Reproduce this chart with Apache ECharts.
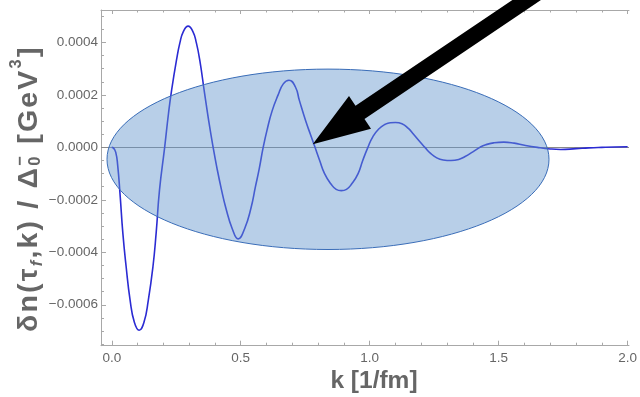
<!DOCTYPE html>
<html lang="en">
<head>
    <meta charset="UTF-8">
    <title>delta n vs k</title>
    <script src="https://cdn.jsdelivr.net/npm/echarts@6/dist/echarts.min.js"></script>
    <style>
        html, body {
            margin: 0;
            padding: 0;
            background: #fff;
        }
        #chart {
            width: 640px;
            height: 397px;
        }
    </style>
</head>
<body>
<div id="chart"></div>
<script>
    // k [1/fm] sample positions
    const kValues = [
        0, 0.006, 0.0152, 0.0228, 0.0323, 0.0429, 0.0558, 0.071, 0.0873, 0.106, 0.125, 0.1417, 0.1595, 0.172, 0.185, 0.205,
        0.22, 0.232, 0.251, 0.264, 0.277, 0.296, 0.315, 0.328, 0.341, 0.36, 0.376, 0.393,
        0.408, 0.425, 0.442, 0.467, 0.49, 0.515, 0.54, 0.557, 0.572, 0.587,
        0.603, 0.622, 0.645, 0.665, 0.687, 0.712, 0.727, 0.752, 0.77, 0.788,
        0.806, 0.825, 0.85, 0.87, 0.89, 0.91, 0.93, 0.955, 0.973, 0.993,
        1.012, 1.035, 1.06, 1.08, 1.1, 1.125, 1.15, 1.17, 1.193, 1.214,
        1.235, 1.26, 1.285, 1.315, 1.345, 1.37, 1.4, 1.427,
        1.45, 1.48, 1.52, 1.56, 1.6, 1.65, 1.7, 1.74, 1.8, 1.85, 1.9, 1.95, 2.0
    ];
    // delta n / Delta_0^- [GeV^3] at those k
    const deltaN = [
        0, -0.000002, -0.000018, -0.0000675, -0.000182, -0.000327, -0.000456, -0.000582, -0.000666, -0.000697, -0.000666, -0.000582, -0.000456, -0.000327, -0.000163, 0,
        0.00013, 0.000218, 0.000333, 0.000398, 0.00044, 0.000462, 0.00044, 0.000398, 0.000333, 0.000205, 0.0001, 0,
        -0.00008, -0.00016, -0.00023, -0.00031, -0.000349, -0.00031, -0.00023, -0.00015, -0.00008, 0,
        0.00007, 0.00014, 0.0002, 0.000242, 0.000256, 0.00023, 0.00018, 0.0001, 0.00005, 0,
        -0.00005, -0.0001, -0.00014, -0.00016, -0.000165, -0.00016, -0.00014, -0.0001, -0.00005, 0,
        0.00004, 0.00007, 0.000088, 0.000094, 0.0000945, 0.00009, 0.000072, 0.00005, 0.000023, 0,
        -0.000022, -0.00004, -0.000048, -0.00005, -0.000046, -0.000035, -0.000017, 0,
        0.00001, 0.000017, 0.00002, 0.000016, 0.000008, 0, -0.000006, -0.000008, -0.000005, -0.000002, 0, 0.0000015, 0.000002
    ];

    // tick positions
    const xMajorTicks = [0, 0.5, 1.0, 1.5, 2.0];
    const xMinorTicks = [0.1, 0.2, 0.3, 0.4, 0.6, 0.7, 0.8, 0.9, 1.1, 1.2, 1.3, 1.4, 1.6, 1.7, 1.8, 1.9];
    const yMajorTicks = [-0.0006, -0.0004, -0.0002, 0, 0.0002, 0.0004];
    const yMinorTicks = [-0.00075, -0.0007, -0.00065, -0.00055, -0.0005, -0.00045, -0.00035, -0.0003, -0.00025,
        -0.00015, -0.0001, -0.00005, 0.00005, 0.0001, 0.00015, 0.00025, 0.0003, 0.00035, 0.00045, 0.0005];

    // y axis title pieces: m = normal, s = subscript, p = superscript, st = stacked sub+sup
    const yTitleParts = [
        { text: '\u03b4n(\u03c4', kind: 'm' },
        { text: 'f', kind: 's' },
        { text: ',k) / \u0394', kind: 'm' },
        { text: '0', over: '\u2212', kind: 'st' },
        { text: ' [GeV', kind: 'm' },
        { text: '3', kind: 'p' },
        { text: ']', kind: 'm' }
    ];

    const X_MIN = -0.0418, X_MAX = 2.0053;
    const Y_MIN = -0.000756, Y_MAX = 0.0005235;

    const FONT = '"Liberation Sans", Arial, sans-serif';
    const frameColor = '#a8a8a8';
    const textColor = '#666';

    const curveData = kValues.map((k, i) => [k, deltaN[i]]);

    function xAxisDef(position, ticks, len, withLine, withLabels) {
        return {
            type: 'value',
            position: position,
            min: X_MIN,
            max: X_MAX,
            axisLine: { show: withLine, onZero: false, lineStyle: { color: frameColor, width: 1 } },
            axisTick: { show: true, inside: true, length: len, customValues: ticks,
                        lineStyle: { color: frameColor, width: 1 } },
            axisLabel: withLabels ? {
                show: true, customValues: ticks, margin: 6,
                color: textColor, fontSize: 13.5, fontFamily: FONT,
                formatter: v => v.toFixed(1)
            } : { show: false },
            splitLine: { show: false }
        };
    }

    function yAxisDef(ticks, len, withLine, withLabels) {
        return {
            type: 'value',
            position: 'left',
            min: Y_MIN,
            max: Y_MAX,
            axisLine: { show: withLine, onZero: false, lineStyle: { color: frameColor, width: 1 } },
            axisTick: { show: true, inside: true, length: len, customValues: ticks,
                        lineStyle: { color: frameColor, width: 1 } },
            axisLabel: withLabels ? {
                show: true, customValues: ticks, margin: 3,
                color: textColor, fontSize: 13.5, fontFamily: FONT,
                formatter: v => (v < 0 ? '\u2212' : '') + Math.abs(v).toFixed(4)
            } : { show: false },
            splitLine: { show: false }
        };
    }

    // rotated y title, one glyph per element so sub/superscripts can stack
    // and the spacing can be stretched a little to the reference length
    function buildYTitle(bottomY, topY, cx) {
        const ctx = document.createElement('canvas').getContext('2d');
        const mainSize = 28.5, smallSize = 16.5;
        const fontStr = (size, italic) => (italic ? 'italic ' : '') + 'bold ' + size + 'px ' + FONT;
        const measure = (t, f) => { ctx.font = f; return ctx.measureText(t).width; };

        const glyphs = [];
        yTitleParts.forEach(p => {
            if (p.kind === 'st') {
                const w = Math.max(measure(p.text, fontStr(smallSize)), measure(p.over, fontStr(smallSize)));
                glyphs.push({ items: [{ t: p.text, size: smallSize, dx: 6 }, { t: p.over, size: smallSize, dx: -9 }], w: w });
                return;
            }
            const size = p.kind === 'm' ? mainSize : smallSize;
            const italic = p.kind === 's';
            const dx = p.kind === 's' ? 8.5 : (p.kind === 'p' ? -13 : 0);
            Array.from(p.text).forEach(ch => {
                glyphs.push({ items: [{ t: ch, size: size, dx: dx, italic: italic }], w: measure(ch, fontStr(size, italic)) });
            });
        });
        const natural = glyphs.reduce((a, g) => a + g.w, 0);
        const extra = Math.max(0, Math.min(2.2, ((bottomY - topY) - natural) / (glyphs.length - 1)));

        const els = [];
        let s = 0;
        glyphs.forEach(g => {
            g.items.forEach(it => {
                els.push({
                    type: 'text', z: 70, x: cx + it.dx, y: bottomY - s, rotation: Math.PI / 2,
                    style: {
                        text: it.t, align: 'left', verticalAlign: 'middle', fill: textColor,
                        fontSize: it.size, fontWeight: 'bold', fontStyle: it.italic ? 'italic' : 'normal',
                        fontFamily: FONT
                    }
                });
            });
            s += g.w + extra;
        });
        return els;
    }

    const chart = echarts.init(document.getElementById('chart'), null, { renderer: 'canvas' });

    const option = {
        animation: false,
        backgroundColor: '#fff',
        grid: { left: 101, top: 10, right: 0, bottom: 51.3, containLabel: false },
        xAxis: [
            xAxisDef('bottom', xMajorTicks, 5, true, true),
            xAxisDef('bottom', xMinorTicks, 3, false, false),
            xAxisDef('top', xMajorTicks, 4, true, false),
            xAxisDef('top', xMinorTicks, 2.5, false, false)
        ],
        yAxis: [
            yAxisDef(yMajorTicks, 5, true, true),
            yAxisDef(yMinorTicks, 3, false, false)
        ],
        series: [
            {
                type: 'line',
                xAxisIndex: 0,
                yAxisIndex: 0,
                data: curveData,
                showSymbol: false,
                smooth: 0.5,
                lineStyle: { color: '#2b2bd3', width: 1.6 },
                z: 3,
                markLine: {
                    silent: true,
                    symbol: 'none',
                    label: { show: false },
                    lineStyle: { color: '#8a8a8a', width: 1, type: 'solid' },
                    data: [{ yAxis: 0 }],
                    z: 2
                }
            }
        ],
        graphic: [
            {
                // translucent highlight ellipse
                type: 'ellipse',
                z: 50,
                shape: { cx: 328, cy: 159.3, rx: 221, ry: 90.2 },
                style: { fill: 'rgba(100,150,205,0.46)', stroke: '#3a6db8', lineWidth: 1 }
            },
            {
                // black arrow pointing at the ellipse
                type: 'polygon',
                z: 60,
                shape: {
                    points: [[312.7, 144.3], [349, 96.1], [355.5, 105.8], [629.1, -78.7],
                             [638.1, -65.5], [364.5, 119.0], [371, 128.7]]
                },
                style: { fill: '#000' }
            },
            {
                type: 'text',
                z: 70,
                x: 374,
                y: 381,
                style: {
                    text: 'k [1/fm]',
                    align: 'center',
                    verticalAlign: 'middle',
                    fill: textColor,
                    fontSize: 24.5,
                    fontWeight: 'bold',
                    fontFamily: FONT
                }
            }
        ].concat(buildYTitle(332, 38, 29))
    };

    chart.setOption(option);
</script>
</body>
</html>
